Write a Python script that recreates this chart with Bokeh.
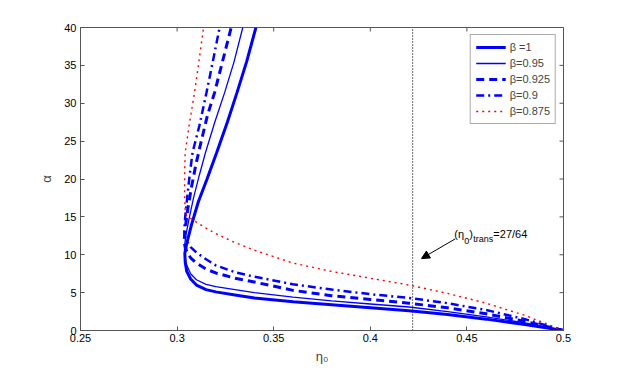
from math import pi
from bokeh.plotting import figure
from bokeh.models import (FixedTicker, CustomJSTickFormatter, Legend,
                          LegendItem, Label, Arrow, NormalHead, Range1d)
from bokeh.embed import file_html
from bokeh.resources import INLINE

# ---- data ----
betas = ["β =1", "β=0.95", "β=0.925", "β=0.9", "β=0.875"]

# lower branches (from cusp to eta0 = 0.5)
eta_low_1 = [0.3040, 0.3042, 0.305, 0.307, 0.31, 0.315, 0.32, 0.33, 0.34, 0.36, 0.38, 0.40, 0.42, 0.44, 0.46, 0.48, 0.5]
alpha_low_1 = [10.2, 9.0, 7.8, 6.8, 6.0, 5.4, 5.1, 4.7, 4.3, 3.8, 3.4, 3.0, 2.6, 2.1, 1.5, 0.8, 0.0]
eta_low_2 = [0.3038, 0.304, 0.305, 0.307, 0.31, 0.315, 0.32, 0.33, 0.34, 0.36, 0.38, 0.40, 0.42, 0.44, 0.46, 0.48, 0.5]
alpha_low_2 = [11.0, 9.8, 8.6, 7.5, 6.7, 6.1, 5.8, 5.4, 5.0, 4.4, 3.9, 3.5, 3.1, 2.5, 1.8, 1.0, 0.0]
eta_low_3 = [0.3037, 0.304, 0.305, 0.307, 0.31, 0.315, 0.32, 0.33, 0.34, 0.36, 0.38, 0.40, 0.42, 0.44, 0.46, 0.48, 0.5]
alpha_low_3 = [12.0, 11.2, 10.4, 9.6, 8.9, 8.1, 7.6, 6.9, 6.4, 5.3, 4.6, 4.1, 3.6, 3.0, 2.2, 1.2, 0.0]
eta_low_4 = [0.3037, 0.304, 0.305, 0.307, 0.31, 0.315, 0.32, 0.33, 0.34, 0.36, 0.38, 0.40, 0.42, 0.44, 0.46, 0.48, 0.5]
alpha_low_4 = [13.2, 12.5, 11.8, 11.0, 10.3, 9.4, 8.6, 7.7, 7.1, 6.1, 5.4, 4.8, 4.3, 3.6, 2.7, 1.5, 0.0]
eta_low_5 = [0.3042, 0.305, 0.307, 0.31, 0.315, 0.32, 0.33, 0.34, 0.36, 0.38, 0.40, 0.42, 0.44, 0.46, 0.48, 0.5]
alpha_low_5 = [15.6, 15.2, 14.8, 14.3, 13.5, 12.8, 11.6, 10.6, 8.9, 7.8, 6.9, 6.0, 4.9, 3.6, 2.0, 0.0]

# upper branches (from cusp up to alpha = 40)
eta_up_1 = [0.3040, 0.3050, 0.3075, 0.311, 0.3155, 0.3205, 0.326, 0.331, 0.336, 0.3408]
alpha_up_1 = [10.2, 11.5, 14.0, 17.0, 20.0, 23.5, 27.5, 31.4, 35.5, 40.0]
eta_up_2 = [0.3038, 0.3045, 0.306, 0.3085, 0.3115, 0.3147, 0.3195, 0.3246, 0.3295, 0.334]
alpha_up_2 = [11.0, 12.5, 14.5, 17.5, 20.5, 23.5, 27.5, 31.4, 35.5, 40.0]
eta_up_3 = [0.3037, 0.3042, 0.3055, 0.3075, 0.3098, 0.3125, 0.3158, 0.3194, 0.3235, 0.328]
alpha_up_3 = [12.0, 13.5, 16.0, 19.0, 22.0, 25.0, 28.5, 31.4, 35.5, 40.0]
eta_up_4 = [0.3037, 0.3042, 0.3052, 0.3065, 0.308, 0.3115, 0.3152, 0.3185, 0.322]
alpha_up_4 = [13.2, 15.0, 17.5, 20.5, 23.5, 27.0, 31.4, 35.5, 40.0]
eta_up_5 = [0.3042, 0.3039, 0.3039, 0.3042, 0.3062, 0.309, 0.3113, 0.3137]
alpha_up_5 = [15.6, 18.0, 21.0, 23.5, 27.0, 31.4, 35.5, 40.0]

eta_trans = 27 / 64
x_ticks = [0.25, 0.3, 0.35, 0.4, 0.45, 0.5]
y_ticks = [0, 5, 10, 15, 20, 25, 30, 35, 40]

FONT = "Liberation Sans"
AXC = "#555555"

p = figure(width=615, height=366, output_backend="svg", toolbar_location=None,
           x_range=Range1d(0.25, 0.5), y_range=Range1d(0, 40),
           min_border_left=80, min_border_right=52, min_border_top=27, min_border_bottom=34)
p.background_fill_color = "white"
p.border_fill_color = "white"
p.outline_line_color = AXC
p.grid.visible = False

fmt = CustomJSTickFormatter(code="return String(Math.round(tick*100)/100)")
for ax in (p.xaxis[0], p.yaxis[0]):
    ax.major_tick_in = 4
    ax.major_tick_out = 0
    ax.minor_tick_in = 0
    ax.minor_tick_out = 0
    ax.axis_line_color = AXC
    ax.major_tick_line_color = AXC
    ax.major_label_text_font = FONT
    ax.major_label_text_font_size = "11px"
    ax.major_label_text_color = "black"
    ax.axis_label_text_font = FONT
    ax.axis_label_text_font_style = "normal"
    ax.axis_label_text_font_size = "13px"
    ax.formatter = fmt
p.xaxis[0].ticker = FixedTicker(ticks=x_ticks)
p.yaxis[0].ticker = FixedTicker(ticks=y_ticks)
p.xaxis[0].major_label_standoff = 3
p.yaxis[0].major_label_standoff = 4
p.xaxis[0].axis_label = "η₀"
p.yaxis[0].axis_label = "α"
p.xaxis[0].axis_label_standoff = 4
p.yaxis[0].axis_label_standoff = 7

# inward ticks on the top and right frame edges
p.ray(x=x_ticks, y=[40] * len(x_ticks), length=4, length_units="screen",
      angle=-pi / 2, line_color=AXC, line_width=1)
p.ray(x=[0.5] * len(y_ticks), y=y_ticks, length=4, length_units="screen",
      angle=pi, line_color=AXC, line_width=1)

styles = [
    dict(line_color="#0000ff", line_width=3.0, line_dash="solid"),
    dict(line_color="#0000ff", line_width=1.3, line_dash="solid"),
    dict(line_color="#0000ff", line_width=3.0, line_dash="8 5"),
    dict(line_color="#0000ff", line_width=2.5, line_dash="8 4 2 4"),
    dict(line_color="#ff0000", line_width=1.4, line_dash="2 4"),
]
lows = [(eta_low_1, alpha_low_1), (eta_low_2, alpha_low_2), (eta_low_3, alpha_low_3),
        (eta_low_4, alpha_low_4), (eta_low_5, alpha_low_5)]
ups = [(eta_up_1, alpha_up_1), (eta_up_2, alpha_up_2), (eta_up_3, alpha_up_3),
       (eta_up_4, alpha_up_4), (eta_up_5, alpha_up_5)]

# vertical transition line
p.line([eta_trans, eta_trans], [0, 40], line_color="black", line_width=1.2, line_dash="1 2")

items = []
for lab, st, (el, al), (eu, au) in zip(betas, styles, lows, ups):
    xs = list(reversed(el)) + list(eu[1:])
    ys = list(reversed(al)) + list(au[1:])
    r = p.line(xs, ys, **st)
    items.append(LegendItem(label=lab, renderers=[r]))

leg = Legend(items=items, location="top_right", label_text_font=FONT,
             label_text_font_size="11px", glyph_width=30, glyph_height=14,
             label_height=14, spacing=2, padding=5, margin=7,
             border_line_color="#555555", border_line_width=1, label_standoff=4)
p.add_layout(leg, "center")

# annotation
p.add_layout(Arrow(end=NormalHead(size=8, fill_color="black", line_color="black"),
                   x_start=0.4440, y_start=12.1, x_end=0.4265, y_end=9.5,
                   line_color="black", line_width=1))
ax0 = 0.4435
ay0 = 11.9
p.add_layout(Label(x=ax0, y=ay0, text="(η", text_font=FONT, text_font_size="11px",
                   text_color="black"))
p.add_layout(Label(x=ax0, y=ay0, x_offset=10, y_offset=-4, text="0", text_font=FONT,
                   text_font_size="9px", text_color="black"))
p.add_layout(Label(x=ax0, y=ay0, x_offset=15, text=")", text_font=FONT,
                   text_font_size="11px", text_color="black"))
p.add_layout(Label(x=ax0, y=ay0, x_offset=19, y_offset=-4, text="trans", text_font=FONT,
                   text_font_size="9px", text_color="black"))
p.add_layout(Label(x=ax0, y=ay0, x_offset=39, text="=27/64", text_font=FONT,
                   text_font_size="11px", text_color="black"))

open("out.html", "w").write(file_html(p, INLINE))
